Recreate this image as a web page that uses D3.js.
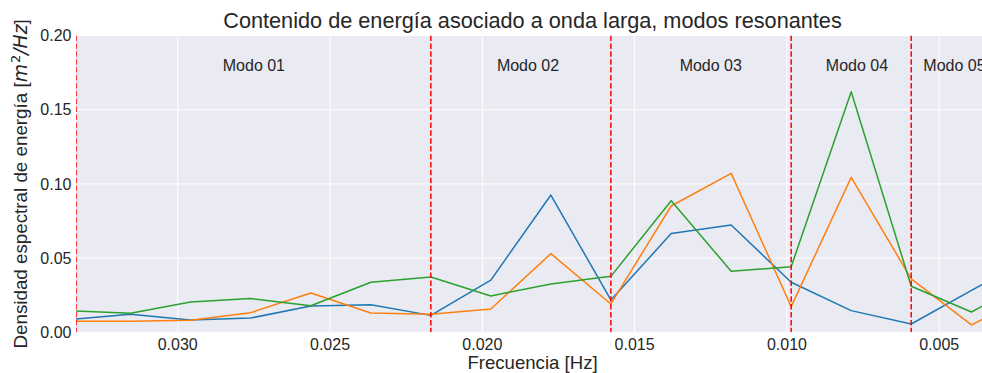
<!DOCTYPE html>
<html>
<head>
<meta charset="utf-8">
<script src="https://cdn.jsdelivr.net/npm/d3@7"></script>
<style>
  body { margin: 0; background: #fff; }
  svg { display: block; font-family: "Liberation Sans", Arial, sans-serif; }
</style>
</head>
<body>
<div id="container"></div>
<script>
// frequencies of the spectral estimates (Hz)
const freqs = [0.03352, 0.03155, 0.02958, 0.02761, 0.02563, 0.02366, 0.02169, 0.01972, 0.01775,
               0.01578, 0.01380, 0.01183, 0.00986, 0.00789, 0.00592, 0.00394, 0.00197];
// energy density per series [m^2/Hz]
const serieBlue   = [0.0087, 0.0121, 0.0083, 0.0096, 0.0177, 0.0186, 0.0114, 0.0352, 0.0925,
                     0.0218, 0.0665, 0.0723, 0.0337, 0.0146, 0.0056, 0.0282, 0.0510];
const serieOrange = [0.0074, 0.0074, 0.0081, 0.0132, 0.0265, 0.0130, 0.0121, 0.0157, 0.0530,
                     0.0191, 0.0851, 0.1071, 0.0173, 0.1044, 0.0360, 0.0050, 0.0250];
const serieGreen  = [0.0146, 0.0128, 0.0204, 0.0227, 0.0179, 0.0337, 0.0373, 0.0245, 0.0326,
                     0.0377, 0.0887, 0.0411, 0.0442, 0.1621, 0.0310, 0.0137, 0.0357];

// limits of the resonant modes and label positions
const modeLimits = [0.03334, 0.02169, 0.01578, 0.00986, 0.00592];
const modeNames = ['Modo 01', 'Modo 02', 'Modo 03', 'Modo 04', 'Modo 05'];
const modeLabelFreq = [0.0275, 0.0185, 0.0125, 0.0077, 0.0045];
const modeLabelY = 0.18;

const xTicks = [0.030, 0.025, 0.020, 0.015, 0.010, 0.005];
const yTicks = [0.00, 0.05, 0.10, 0.15, 0.20];

const W = 982, H = 373;
const margin = {left: 76, top: 35.5, right: -7, bottom: 40.7};
const pw = W - margin.left - margin.right,
      ph = H - margin.top - margin.bottom;

const svg = d3.select('#container').append('svg')
    .attr('width', W)
    .attr('height', H);

const x = d3.scaleLinear().domain([0.03334, 0.003366]).range([0, pw]);
const y = d3.scaleLinear().domain([0, 0.20]).range([ph, 0]);

svg.append('defs').append('clipPath').attr('id', 'clip')
  .append('rect').attr('width', pw).attr('height', ph);

const g = svg.append('g')
    .attr('transform', `translate(${margin.left},${margin.top})`);

g.append('rect')
    .attr('width', pw)
    .attr('height', ph)
    .attr('fill', '#EAEAF2');

// grid
g.selectAll('.vgrid').data(xTicks).enter().append('line')
    .attr('x1', d => x(d)).attr('x2', d => x(d))
    .attr('y1', 0).attr('y2', ph)
    .attr('stroke', '#fff').attr('stroke-width', 1);
g.selectAll('.hgrid').data(yTicks).enter().append('line')
    .attr('y1', d => y(d)).attr('y2', d => y(d))
    .attr('x1', 0).attr('x2', pw)
    .attr('stroke', '#fff').attr('stroke-width', 1);

// tick labels
g.selectAll('.xt').data(xTicks).enter().append('text')
    .attr('x', d => x(d))
    .attr('y', ph + 18)
    .attr('text-anchor', 'middle')
    .attr('font-size', 16)
    .attr('fill', '#262626')
    .text(d => d3.format('.3f')(d));
g.selectAll('.yt').data(yTicks).enter().append('text')
    .attr('x', -4.5)
    .attr('y', d => y(d))
    .attr('dy', '0.35em')
    .attr('text-anchor', 'end')
    .attr('font-size', 16)
    .attr('fill', '#262626')
    .text(d => d3.format('.2f')(d));

const plot = g.append('g').attr('clip-path', 'url(#clip)');

const series = [
  {vals: serieBlue, color: '#1f77b4'},
  {vals: serieOrange, color: '#ff7f0e'},
  {vals: serieGreen, color: '#2ca02c'}
];
const line = d3.line().x(d => x(d[0])).y(d => y(d[1]));

series.forEach(s => {
  plot.append('path')
    .datum(freqs.map((f, i) => [f, s.vals[i]]))
    .attr('d', line)
    .attr('fill', 'none')
    .attr('stroke', s.color)
    .attr('stroke-width', 1.5)
    .attr('stroke-linejoin', 'round');
});

// mode limits
plot.selectAll('.lim').data(modeLimits).enter().append('line')
    .attr('x1', d => x(d)).attr('x2', d => x(d))
    .attr('y1', 0).attr('y2', ph)
    .attr('stroke', '#ff0000')
    .attr('stroke-width', 1.5)
    .attr('stroke-dasharray', '5.5,2.4');

plot.selectAll('.modo').data(modeNames).enter().append('text')
    .attr('x', (d, i) => x(modeLabelFreq[i]))
    .attr('y', y(modeLabelY))
    .attr('dy', '0.35em')
    .attr('text-anchor', 'middle')
    .attr('font-size', 16)
    .attr('fill', '#262626')
    .text(d => d);

// titles
svg.append('text')
    .attr('x', margin.left + pw / 2)
    .attr('y', 28)
    .attr('text-anchor', 'middle')
    .attr('font-size', 21.7)
    .attr('fill', '#262626')
    .text('Contenido de energía asociado a onda larga, modos resonantes');

svg.append('text')
    .attr('x', margin.left + pw / 2)
    .attr('y', 369)
    .attr('text-anchor', 'middle')
    .attr('font-size', 18.6)
    .attr('fill', '#262626')
    .text('Frecuencia [Hz]');

const yl = svg.append('text')
    .attr('transform', `translate(26.5,${margin.top + ph / 2}) rotate(-90)`)
    .attr('text-anchor', 'middle')
    .attr('font-size', 18.8)
    .attr('fill', '#262626');
yl.append('tspan').text('Densidad espectral de energía [');
yl.append('tspan').attr('font-family', 'DejaVu Sans').attr('font-style', 'italic').text('m');
yl.append('tspan').attr('font-family', 'DejaVu Sans').attr('font-size', 13).attr('dy', -7).attr('dx', 1).text('2');
yl.append('tspan').attr('font-family', 'DejaVu Sans').attr('font-style', 'italic').attr('dy', 7).text('/Hz');
yl.append('tspan').text(']');
</script>
</body>
</html>
